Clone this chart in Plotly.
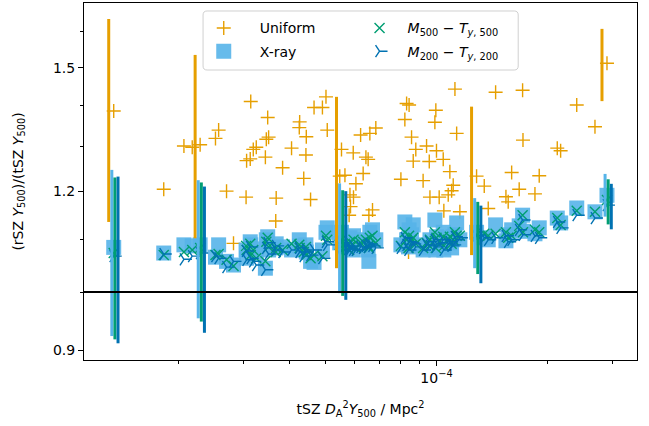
import numpy as np
import plotly.graph_objects as go

# tSZ D_A^2 Y500 [Mpc^2] per cluster
d2y = [1.336e-5, 1.825e-5, 2.07e-5, 2.18e-5, 2.29e-5, 2.52e-5, 2.57e-5, 2.70e-5, 2.82e-5, 3.05e-5,
       3.06e-5, 3.13e-5, 3.14e-5, 3.19e-5, 3.25e-5, 3.44e-5, 3.46e-5, 3.49e-5, 3.51e-5, 3.67e-5,
       3.68e-5, 3.83e-5, 4.05e-5, 4.25e-5, 4.26e-5, 4.37e-5, 4.43e-5, 4.44e-5, 4.56e-5, 4.66e-5,
       4.91e-5, 5.02e-5, 5.06e-5, 5.47e-5, 5.53e-5, 5.65e-5, 5.80e-5, 5.83e-5, 5.85e-5, 5.95e-5,
       5.96e-5, 6.05e-5, 6.23e-5, 6.33e-5, 6.44e-5, 6.53e-5, 6.56e-5, 6.60e-5, 6.71e-5, 6.85e-5,
       8.01e-5, 8.21e-5, 8.30e-5, 8.40e-5, 8.43e-5, 8.56e-5, 8.65e-5, 8.79e-5, 9.20e-5, 9.40e-5,
       9.56e-5, 9.60e-5, 9.90e-5, 9.96e-5, 1.000e-4, 1.017e-4, 1.043e-4, 1.047e-4, 1.076e-4, 1.087e-4,
       1.099e-4, 1.110e-4, 1.122e-4, 1.134e-4, 1.157e-4, 1.284e-4, 1.347e-4, 1.381e-4, 1.446e-4, 1.542e-4,
       1.564e-4, 1.598e-4, 1.675e-4, 1.711e-4, 1.715e-4, 1.848e-4, 1.898e-4, 2.124e-4, 2.169e-4, 2.398e-4,
       2.687e-4, 2.896e-4]

uniform = [1.387, 1.204, 1.302, 1.299, 1.305, 1.320, 1.340, 1.200, 1.092, 1.187,
           1.268, 1.272, 1.411, 1.294, 1.299, 1.276, 1.318, 1.371, 1.323, 1.137,
           1.185, 1.252, 1.297, 1.346, 1.360, 1.228, 1.281, 1.324, 1.182, 1.396,
           1.396, 1.423, 1.340, 1.233, 1.294, 1.235, 1.149, 1.192, 1.167, 1.286,
           1.187, 1.216, 1.328, 1.239, 1.276, 1.271, 1.149, 1.332, 1.160, 1.345,
           1.226, 1.366, 1.406, 1.075, 1.402, 1.323, 1.267, 1.294, 1.223, 1.302,
           1.266, 1.187, 1.359, 1.389, 1.291, 1.187, 1.271, 1.158, 1.192, 1.243,
           1.201, 1.213, 1.443, 1.332, 1.156, 1.233, 1.211, 1.163, 1.435, 1.188,
           1.177, 1.241, 1.204, 1.440, 1.316, 1.194, 1.234, 1.297, 1.291, 1.402,
           1.348, 1.512]

xray = [1.084, 1.073, 1.089, 1.087, 1.089, 1.065, 1.089, 1.057, 1.050, 1.079,
        1.063, 1.095, 1.089, 1.081, 1.071, 1.044, 1.099, 1.105, 1.079, 1.083,
        1.091, 1.085, 1.079, 1.099, 1.087, 1.079, 1.089, 1.075, 1.057, 1.055,
        1.079, 1.114, 1.123, 1.093, 1.114, 1.085, 1.089, 1.103, 1.093, 1.079,
        1.107, 1.089, 1.099, 1.087, 1.093, 1.079, 1.057, 1.114, 1.119, 1.099,
        1.089, 1.135, 1.099, 1.085, 1.119, 1.109, 1.129, 1.089, 1.079, 1.085,
        1.083, 1.099, 1.139, 1.079, 1.105, 1.089, 1.114, 1.079, 1.103, 1.093,
        1.083, 1.105, 1.109, 1.133, 1.099, 1.114, 1.103, 1.099, 1.129, 1.097,
        1.109, 1.119, 1.127, 1.149, 1.116, 1.111, 1.123, 1.143, 1.133, 1.164,
        1.156, 1.191]

m500 = [1.073, 1.069, 1.075, 1.079, 1.083, 1.069, 1.071, 1.060, 1.048, 1.087,
        1.079, 1.091, 1.069, 1.079, 1.063, 1.057, 1.095, 1.103, 1.085, 1.075,
        1.083, 1.079, 1.091, 1.089, 1.083, 1.075, 1.085, 1.069, 1.063, 1.069,
        1.067, 1.107, 1.099, 1.089, 1.099, 1.091, 1.079, 1.095, 1.087, 1.089,
        1.099, 1.083, 1.093, 1.095, 1.099, 1.087, 1.083, 1.103, 1.107, 1.093,
        1.087, 1.114, 1.099, 1.083, 1.107, 1.099, 1.103, 1.091, 1.083, 1.093,
        1.087, 1.099, 1.114, 1.083, 1.103, 1.095, 1.105, 1.087, 1.099, 1.105,
        1.091, 1.099, 1.114, 1.107, 1.107, 1.109, 1.111, 1.107, 1.111, 1.114,
        1.103, 1.107, 1.127, 1.149, 1.114, 1.119, 1.114, 1.143, 1.129, 1.158,
        1.156, 1.181]

m200 = [1.067, 1.071, 1.061, 1.067, 1.073, 1.067, 1.063, 1.046, 1.057, 1.077,
        1.060, 1.085, 1.063, 1.057, 1.050, 1.041, 1.083, 1.093, 1.071, 1.079,
        1.087, 1.075, 1.079, 1.083, 1.075, 1.067, 1.075, 1.079, 1.069, 1.079,
        1.063, 1.095, 1.089, 1.079, 1.093, 1.087, 1.083, 1.085, 1.081, 1.079,
        1.087, 1.079, 1.085, 1.083, 1.087, 1.085, 1.089, 1.091, 1.087, 1.083,
        1.083, 1.103, 1.089, 1.079, 1.095, 1.093, 1.091, 1.085, 1.079, 1.089,
        1.095, 1.087, 1.099, 1.085, 1.091, 1.093, 1.099, 1.079, 1.091, 1.095,
        1.087, 1.089, 1.105, 1.099, 1.103, 1.107, 1.103, 1.099, 1.103, 1.107,
        1.095, 1.099, 1.119, 1.139, 1.109, 1.107, 1.103, 1.135, 1.123, 1.149,
        1.143, 1.170]

# clusters with error bars (indices into the arrays above)
err_idx = [0, 4, 34, 75, 91]
uni_lo = [1.135, 1.102, 1.044, 1.069, 1.412]
uni_hi = [1.638, 1.535, 1.423, 1.398, 1.609]
xray_lo = [0.9235, 0.9536, 0.998, 1.044, 1.146]
xray_hi = [1.247, 1.224, 1.217, 1.185, 1.238]
m500_lo = [0.918, 0.948, 0.993, 1.033, 1.130]
m500_hi = [1.230, 1.219, 1.202, 1.177, 1.226]
m200_lo = [0.9115, 0.929, 0.986, 1.016, 1.120]
m200_hi = [1.232, 1.210, 1.200, 1.169, 1.216]

ORANGE = "#E69F00"
LBLUE = "#56B4E9"
GREEN = "#009E73"
DBLUE = "#0072B2"
FONT = "DejaVu Sans"

xlog_range = [-4.9547, -3.4569]
ylog_range = [np.log10(0.8844), np.log10(1.686)]

fig = go.Figure()

fig.add_trace(go.Scatter(
    x=d2y, y=uniform, mode="markers", name="Uniform", legend="legend", legendgroup="a",
    marker=dict(symbol="cross-thin", size=10, line=dict(color=ORANGE, width=1.4), color=ORANGE)))
fig.add_trace(go.Scatter(
    x=d2y, y=xray, mode="markers", name="X-ray", legend="legend", legendgroup="b",
    marker=dict(symbol="square", size=15, color=LBLUE, opacity=0.9, line=dict(width=0))))
fig.add_trace(go.Scatter(
    x=d2y, y=m500, mode="markers", name="<i>M</i><sub>500</sub> − <i>T</i><sub><i>y</i>, 500</sub>",
    legend="legend2", legendgroup="c",
    marker=dict(symbol="x-thin", size=10, line=dict(color=GREEN, width=1.4), color=GREEN)))
fig.add_trace(go.Scatter(
    x=d2y, y=m200, mode="markers", name="<i>M</i><sub>200</sub> − <i>T</i><sub><i>y</i>, 200</sub>",
    legend="legend2", legendgroup="d",
    marker=dict(symbol="y-right", size=10, line=dict(color=DBLUE, width=1.4), color=DBLUE)))

# error bars, dodged horizontally by a few pixels
px_per_dec = 369.0
series = [
    (uniform, uni_lo, uni_hi, ORANGE, -5.0),
    (xray, xray_lo, xray_hi, LBLUE, -1.9),
    (m500, m500_lo, m500_hi, GREEN, 1.2),
    (m200, m200_lo, m200_hi, DBLUE, 4.3),
]
for vals, lo, hi, col, dpx in series:
    fac = 10 ** (dpx / px_per_dec)
    xs = [d2y[i] * fac for i in err_idx]
    ys = [vals[i] for i in err_idx]
    fig.add_trace(go.Scatter(
        x=xs, y=ys, mode="markers", showlegend=False, hoverinfo="skip",
        marker=dict(size=0, color=col, opacity=0),
        error_y=dict(type="data", symmetric=False,
                     array=[h - y for h, y in zip(hi, ys)],
                     arrayminus=[y - l for l, y in zip(lo, ys)],
                     color=col, thickness=3, width=0)))

# reference line at unity
fig.add_trace(go.Scatter(
    x=[10 ** xlog_range[0], 10 ** xlog_range[1]], y=[1.0, 1.0], mode="lines",
    line=dict(color="black", width=2), showlegend=False, hoverinfo="skip"))

# legend frame (rounded rectangle in paper coords)
x0, x1, y0, y1 = 0.2153, 0.7852, 0.8123, 0.9776
rx, ry = 4 / 552.7, 4 / 357.0
path = (f"M{x0+rx},{y0} L{x1-rx},{y0} Q{x1},{y0} {x1},{y0+ry} L{x1},{y1-ry} Q{x1},{y1} {x1-rx},{y1} "
        f"L{x0+rx},{y1} Q{x0},{y1} {x0},{y1-ry} L{x0},{y0+ry} Q{x0},{y0} {x0+rx},{y0} Z")
fig.add_shape(type="path", path=path, xref="paper", yref="paper",
              line=dict(color="#d0d0d0", width=1), fillcolor="rgba(255,255,255,0.8)", layer="above")

axis_common = dict(showline=True, linecolor="black", linewidth=1, mirror=True,
                   ticks="outside", ticklen=5, tickwidth=1, tickcolor="black",
                   showgrid=False, zeroline=False,
                   tickfont=dict(family=FONT, size=14, color="black"))

fig.update_layout(
    width=649, height=426,
    margin=dict(l=84, r=12, t=3, b=66),
    plot_bgcolor="white", paper_bgcolor="white",
    font=dict(family=FONT, size=14, color="black"),
    xaxis=dict(type="log", range=xlog_range,
               tickmode="array", tickvals=[1e-4], ticktext=["10<sup>−4</sup>"],
               minor=dict(tickmode="array",
                          tickvals=[2e-5, 3e-5, 4e-5, 5e-5, 6e-5, 7e-5, 8e-5, 9e-5, 2e-4, 3e-4],
                          ticks="outside", ticklen=3, tickwidth=1, tickcolor="black", showgrid=False),
               title=dict(text="tSZ <i>D</i><sub>A</sub><sup>2</sup><i>Y</i><sub>500</sub> / Mpc<sup>2</sup>",
                          font=dict(family=FONT, size=14), standoff=19),
               **axis_common),
    yaxis=dict(type="log", range=ylog_range,
               tickmode="array", tickvals=[0.9, 1.2, 1.5], ticktext=["0.9", "1.2", "1.5"],
               minor=dict(tickmode="array", tickvals=[1.0, 1.1, 1.3, 1.4, 1.6],
                          ticks="outside", ticklen=3, tickwidth=1, tickcolor="black", showgrid=False),
               title=dict(text="(rSZ <i>Y</i><sub>500</sub>)/(tSZ <i>Y</i><sub>500</sub>)",
                          font=dict(family=FONT, size=14), standoff=26),
               **axis_common),
    legend=dict(x=0.1876, y=0.9736, xanchor="left", yanchor="top", bgcolor="rgba(0,0,0,0)",
                borderwidth=0, itemwidth=62, tracegroupgap=2, font=dict(family=FONT, size=14)),
    legend2=dict(x=0.4838, y=0.9736, xanchor="left", yanchor="top", bgcolor="rgba(0,0,0,0)",
                 borderwidth=0, itemwidth=46, tracegroupgap=2, font=dict(family=FONT, size=14)),
)

fig.write_html("out.html")
